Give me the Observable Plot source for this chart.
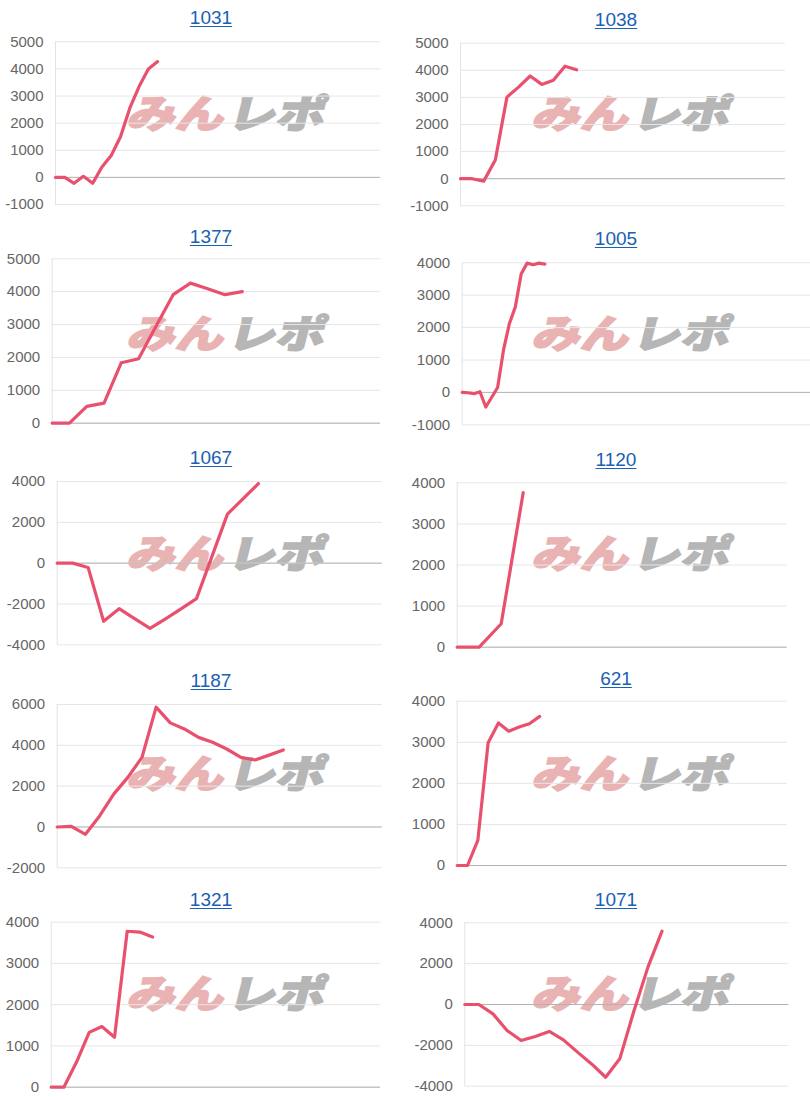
<!DOCTYPE html>
<html lang="ja">
<head>
<meta charset="utf-8">
<title>差枚推移</title>
<script src="https://cdn.jsdelivr.net/npm/d3@7"></script>
<script src="https://cdn.jsdelivr.net/npm/@observablehq/plot@0.6"></script>
<style>
  html, body { margin: 0; padding: 0; background: #fff; }
  #page { position: relative; width: 810px; height: 1100px; overflow: hidden; background: #fff; }
  .title {
    position: absolute; width: 120px; text-align: center;
    font: 19px/22px "Liberation Sans", Arial, sans-serif;
    color: #1a60b4; text-decoration: underline; text-underline-offset: 2px;
  }
  .wm {
    position: absolute; white-space: nowrap; line-height: 1;
    font-family: "Noto Sans CJK JP", sans-serif; font-weight: 900; font-size: 39px;
    transform: skewX(-14deg) scaleX(1.24); transform-origin: 0 0;
    -webkit-text-stroke: 1.6px currentColor;
  }
  .wm .mi { color: #e9b3b3; }
  .wm .re { color: #b6b6b6; margin-left: 3px; }
  svg { position: absolute; background: transparent; overflow: visible; }
</style>
</head>
<body>
<div id="page"></div>
<script>
// Machine numbers shown as panel titles
const stores = ["1031", "1038", "1377", "1005", "1067", "1120", "1187", "621", "1321", "1071"];

// Coin difference per sampling slot, one array per machine
const diff1031 = [0, 0, -220, 40, -220, 380, 810, 1500, 2550, 3350, 4000, 4270];
const diff1038 = [0, 0, -90, 690, 3010, 3380, 3790, 3480, 3630, 4150, 4020];
const diff1377 = [0, 0, 510, 610, 1840, 1960, 2940, 3910, 4260, 4090, 3910, 4000];
const diff1005 = [0, -10, -40, 20, -450, -150, 150, 1310, 2130, 2640, 3660, 3990, 3940, 3990, 3960];
const diff1067 = [0, 0, -210, -2850, -2230, -2720, -3200, -2730, -2240, -1740, 330, 2400, 3150, 3900];
const diff1120 = [0, 0, 570, 3760];
const diff1187 = [0, 30, -360, 540, 1610, 2430, 3410, 5870, 5100, 4800, 4390, 4150, 3820, 3410, 3280, 3520, 3770];
const diff621  = [0, 0, 610, 2990, 3470, 3270, 3370, 3450, 3630];
const diff1321 = [0, 0, 610, 1330, 1470, 1210, 3780, 3760, 3640];
const diff1071 = [0, 0, -460, -1270, -1760, -1570, -1320, -1730, -2330, -2910, -3560, -2660, -330, 1830, 3590];

// Number of slots spanned by each panel's x axis
const slotCounts = [35, 28, 19, 59, 21, 15, 23, 32, 26, 23];

// Y tick labels
const ticksNeg1kTo5k = [-1000, 0, 1000, 2000, 3000, 4000, 5000];
const ticks0To5k     = [0, 1000, 2000, 3000, 4000, 5000];
const ticksNeg1kTo4k = [-1000, 0, 1000, 2000, 3000, 4000];
const ticks0To4k     = [0, 1000, 2000, 3000, 4000];
const ticksPm4k      = [-4000, -2000, 0, 2000, 4000];
const ticksNeg2kTo6k = [-2000, 0, 2000, 4000, 6000];

const series = [diff1031, diff1038, diff1377, diff1005, diff1067, diff1120, diff1187, diff621, diff1321, diff1071];
const panelTicks = [ticksNeg1kTo5k, ticksNeg1kTo5k, ticks0To5k, ticksNeg1kTo4k, ticksPm4k,
                    ticks0To4k, ticksNeg2kTo6k, ticks0To4k, ticks0To4k, ticksPm4k];

// Page layout: plot frame [left, top, right, bottom] in page pixels, title centre y
const frames = [
  [55, 41.3, 380, 204],     [460, 42.7, 785, 205.3],
  [51.7, 258.3, 380, 422.7], [461.7, 262.3, 810, 424.3],
  [56.7, 481, 381.7, 644.3], [456.7, 482.3, 786.7, 646.7],
  [56.7, 704, 381.7, 867.3], [456.7, 700.7, 786.7, 865],
  [50.7, 921.7, 380, 1086.7], [464.3, 922.3, 788.3, 1085.7]
];
const titleY = [18, 20, 237, 239, 458, 460, 681, 679, 900, 900];
const titleX = [211, 616];
const colWidth = 405, rowHeight = 220;

const page = document.getElementById("page");

stores.forEach((name, i) => {
  const col = i % 2, row = Math.floor(i / 2);
  const x0 = col * colWidth, rowTop = row * rowHeight;
  const [fl, ft, fr, fb] = frames[i];

  // linked title
  const t = document.createElement("a");
  t.className = "title";
  t.href = "#";
  t.textContent = name;
  t.style.left = (titleX[col] - 60) + "px";
  t.style.top = (titleY[i] - 11) + "px";
  page.appendChild(t);

  // site watermark behind the plot
  const wm = document.createElement("div");
  wm.className = "wm";
  wm.innerHTML = '<span class="mi">みん</span><span class="re">レポ</span>';
  wm.style.left = (x0 + 135) + "px";
  wm.style.top = (rowTop + 92) + "px";
  page.appendChild(wm);

  const svgTop = rowTop + 30, H = 190;
  const ticks = panelTicks[i];
  const chart = Plot.plot({
    width: colWidth,
    height: H,
    marginLeft: fl - x0,
    marginRight: x0 + colWidth - fr,
    marginTop: ft - svgTop,
    marginBottom: svgTop + H - fb,
    x: {domain: [0, slotCounts[i]], axis: null},
    y: {domain: d3.extent(ticks)},
    style: {fontFamily: "'Liberation Sans', Arial, sans-serif", fontSize: "15px", background: "transparent"},
    marks: [
      Plot.gridY(ticks, {stroke: "#e6e6e6", strokeOpacity: 1}),
      Plot.ruleX([0], {stroke: "#e3e3e3"}),
      Plot.ruleY([0], {stroke: "#b3b3b3"}),
      Plot.axisY(ticks, {tickSize: 0, tickPadding: 12, tickFormat: d => String(d), fill: "#666", fontSize: 15}),
      Plot.lineY(series[i], {
        x: (d, j) => j, y: d => d,
        stroke: "#e8506e", strokeWidth: 3.2, strokeLinejoin: "round", strokeLinecap: "round"
      })
    ]
  });
  chart.style.left = x0 + "px";
  chart.style.top = svgTop + "px";
  page.appendChild(chart);
});
</script>
</body>
</html>
